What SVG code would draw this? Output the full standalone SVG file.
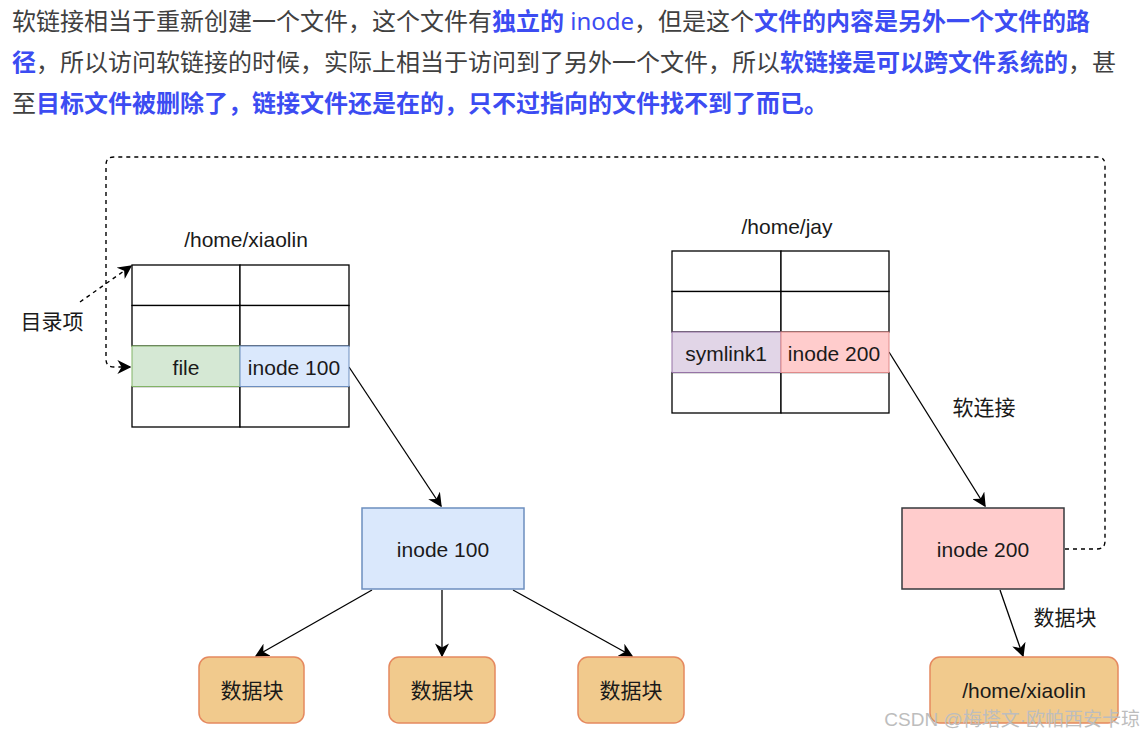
<svg xmlns="http://www.w3.org/2000/svg" width="1144" height="739" viewBox="0 0 1144 739">
<style>
.p{font-family:"Noto Sans","Noto Sans CJK SC",sans-serif;font-size:24px;fill:#404040}
.b{fill:#3c4cf2;font-weight:bold}
.bn{fill:#3c4cf2}
.t{font-family:"Liberation Sans","Noto Sans CJK SC",sans-serif;font-size:21px;fill:#1a1a1a;text-anchor:middle;dominant-baseline:central}
.cell{fill:#ffffff;stroke:#000;stroke-width:1.3}
.ln{fill:none;stroke:#000;stroke-width:1.3}
.dash{fill:none;stroke:#000;stroke-width:1.4;stroke-dasharray:4 4}
.blk{fill:#f1ca8d;stroke:#e5895f;stroke-width:1.5}
</style>
<defs>
<marker id="ahl" viewBox="0 0 10 10" refX="9" refY="5" markerWidth="14" markerHeight="14" markerUnits="userSpaceOnUse" orient="auto">
<path d="M0,0 L10,5 L0,10 L3,5 Z" fill="#000"/>
</marker>
</defs>
<rect width="1144" height="739" fill="#ffffff"/>
<g id="intro">
<text class="p" x="12" y="30">软链接相当于重新创建一个文件，这个文件有<tspan class="b">独立的</tspan><tspan class="bn"> inode</tspan>，但是这个<tspan class="b">文件的内容是另外一个文件的路</tspan></text>
<text class="p" x="12" y="71"><tspan class="b">径</tspan>，所以访问软链接的时候，实际上相当于访问到了另外一个文件，所以<tspan class="b">软链接是可以跨文件系统的</tspan>，甚</text>
<text class="p" x="12" y="112">至<tspan class="b">目标文件被删除了，链接文件还是在的，只不过指向的文件找不到了而已。</tspan></text>
</g>
<g id="connectors">
<path class="dash" d="M1065,549 H1097 Q1105,549 1105,541 V165 Q1105,157 1097,157 H114 Q106,157 106,165 V359 Q106,367 114,367 H130" marker-end="url(#ahl)"/>
<path class="dash" d="M80,302 L131,266" marker-end="url(#ahl)"/>
<path class="ln" d="M349,367 L441,506" marker-end="url(#ahl)"/>
<path class="ln" d="M889,352 L985,506" marker-end="url(#ahl)"/>
<path class="ln" d="M372,590 L256,656" marker-end="url(#ahl)"/>
<path class="ln" d="M442,590 L442,656" marker-end="url(#ahl)"/>
<path class="ln" d="M513,590 L632,656" marker-end="url(#ahl)"/>
<path class="ln" d="M1000,590 L1023,656" marker-end="url(#ahl)"/>
</g>
<g id="dir-xiaolin">
<text class="t" x="246" y="239">/home/xiaolin</text>
<rect class="cell" x="132" y="265" width="108" height="40.5"/>
<rect class="cell" x="240" y="265" width="109" height="40.5"/>
<rect class="cell" x="132" y="305.5" width="108" height="40.5"/>
<rect class="cell" x="240" y="305.5" width="109" height="40.5"/>
<rect class="cell" x="132" y="386.5" width="108" height="40.5"/>
<rect class="cell" x="240" y="386.5" width="109" height="40.5"/>
<rect x="132" y="346" width="108" height="40.5" fill="#d5e8d4" stroke="#82b366" stroke-width="1"/>
<rect x="240" y="346" width="109" height="40.5" fill="#dae8fc" stroke="#6c8ebf" stroke-width="1"/>
<text class="t" x="186" y="367">file</text>
<text class="t" x="294" y="367">inode 100</text>
</g>
<g id="label-dir">
<text class="t" x="52" y="321">目录项</text>
</g>
<g id="dir-jay">
<text class="t" x="787" y="226">/home/jay</text>
<rect class="cell" x="672" y="251" width="109" height="40.5"/>
<rect class="cell" x="781" y="251" width="108" height="40.5"/>
<rect class="cell" x="672" y="291.5" width="109" height="40.5"/>
<rect class="cell" x="781" y="291.5" width="108" height="40.5"/>
<rect class="cell" x="672" y="372.5" width="109" height="40.5"/>
<rect class="cell" x="781" y="372.5" width="108" height="40.5"/>
<rect x="672" y="332" width="109" height="40.5" fill="#e1d5e7" stroke="#9673a6" stroke-width="1"/>
<rect x="781" y="332" width="108" height="40.5" fill="#ffcccc" stroke="#e08a8a" stroke-width="1"/>
<text class="t" x="726" y="353">symlink1</text>
<text class="t" x="834" y="353">inode 200</text>
</g>
<g id="label-soft">
<text class="t" x="984" y="407">软连接</text>
</g>
<g id="inode100">
<rect x="362" y="508" width="162" height="81" fill="#dae8fc" stroke="#6c8ebf" stroke-width="1.5"/>
<text class="t" x="443" y="549">inode 100</text>
</g>
<g id="block1">
<rect class="blk" x="199" y="657" width="105" height="66" rx="10"/>
<text class="t" x="252" y="690">数据块</text>
</g>
<g id="block2">
<rect class="blk" x="389" y="657" width="106" height="66" rx="10"/>
<text class="t" x="442" y="690">数据块</text>
</g>
<g id="block3">
<rect class="blk" x="578" y="657" width="106" height="66" rx="10"/>
<text class="t" x="631" y="690">数据块</text>
</g>
<g id="inode200">
<rect x="902" y="508" width="162" height="81" fill="#ffcccc" stroke="#36393d" stroke-width="1.5"/>
<text class="t" x="983" y="549">inode 200</text>
</g>
<g id="label-data">
<text class="t" x="1065" y="617">数据块</text>
</g>
<g id="target">
<rect class="blk" x="930" y="657" width="188" height="66" rx="10"/>
<text class="t" x="1024" y="690">/home/xiaolin</text>
</g>
<g id="watermark">
<text x="1140" y="726" text-anchor="end" font-family="Liberation Sans,'Noto Sans CJK SC',sans-serif" font-size="19" fill="#bdbdbd">CSDN @梅塔文·欧帕西安卡琼</text>
</g>
</svg>
